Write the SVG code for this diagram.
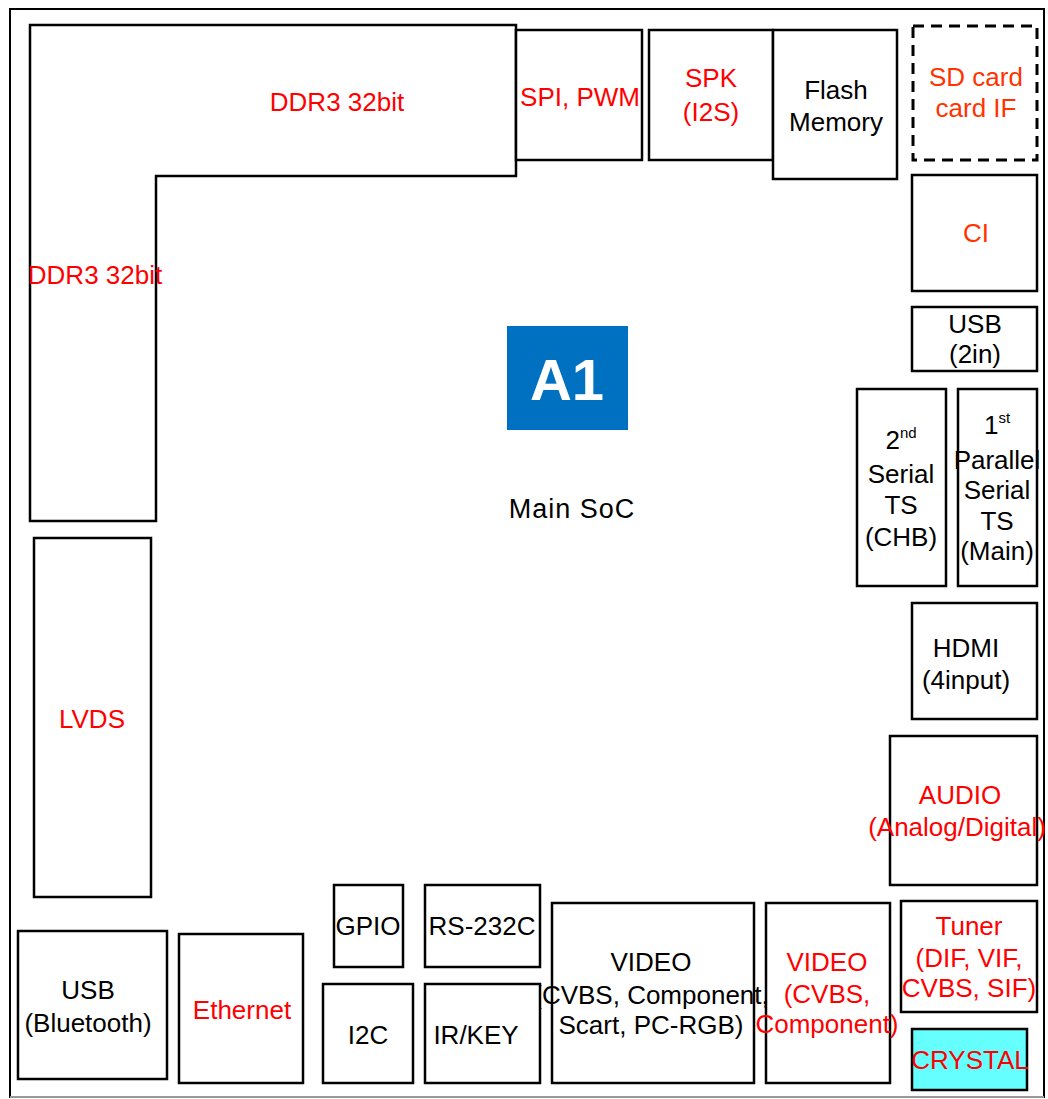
<svg xmlns="http://www.w3.org/2000/svg" width="1048" height="1099" viewBox="0 0 1048 1099">
<style>
.box{fill:#fff;stroke:#000;stroke-width:2.5}
.t{font-family:"Liberation Sans",Arial,sans-serif;font-size:26px;text-anchor:middle;fill:#000}
.r{fill:#ff0000}
.o{fill:#ff3300}
.sup{font-size:15px}
</style>
<rect x="0" y="0" width="1048" height="1099" fill="#fff"/>
<g id="frame">
<rect x="10" y="9" width="1034" height="1088" fill="#fff" stroke="#000" stroke-width="2"/>
<line x1="10" y1="1097" x2="1044" y2="1097" stroke="#999" stroke-width="2"/>
</g>
<g id="connectors"/>
<g id="ddr3">
<path class="box" d="M30 25 H516 V176 H156 V521 H30 Z"/>
<text class="t r" x="337" y="111">DDR3 32bit</text>
<text class="t r" x="95" y="284">DDR3 32bit</text>
</g>
<g id="spi"><rect class="box" x="516" y="30" width="126" height="130"/><text class="t r" x="580" y="106">SPI, PWM</text></g>
<g id="spk"><rect class="box" x="649" y="30" width="124" height="130"/><text class="t r" x="711" y="87">SPK</text><text class="t r" x="711" y="121">(I2S)</text></g>
<g id="flash"><rect class="box" x="773" y="30" width="124" height="149"/><text class="t" x="836" y="99">Flash</text><text class="t" x="836" y="131">Memory</text></g>
<g id="sdcard"><rect x="913" y="26" width="124" height="134" fill="#fff" stroke="#000" stroke-width="3" stroke-dasharray="11,7"/><text class="t o" x="976" y="86">SD card</text><text class="t o" x="976" y="117">card IF</text></g>
<g id="ci"><rect class="box" x="912" y="175" width="125" height="116"/><text class="t o" x="976" y="242">CI</text></g>
<g id="usb2in"><rect class="box" x="912" y="307" width="125" height="64"/><text class="t" x="975" y="333">USB</text><text class="t" x="975" y="363">(2in)</text></g>
<g id="ts2"><rect class="box" x="857" y="389" width="89" height="197"/>
<text class="t" x="901" y="449">2<tspan class="sup" dy="-11">nd</tspan></text>
<text class="t" x="901" y="483">Serial</text><text class="t" x="901" y="514">TS</text><text class="t" x="901" y="546">(CHB)</text></g>
<g id="ts1"><rect class="box" x="958" y="389" width="79" height="197"/>
<text class="t" x="997" y="434">1<tspan class="sup" dy="-11">st</tspan></text>
<text class="t" x="997" y="469">Parallel</text><text class="t" x="997" y="499">Serial</text><text class="t" x="997" y="530">TS</text><text class="t" x="997" y="560">(Main)</text></g>
<g id="hdmi"><rect class="box" x="912" y="603" width="125" height="116"/><text class="t" x="966" y="657">HDMI</text><text class="t" x="966" y="689">(4input)</text></g>
<g id="audio"><rect class="box" x="890" y="736" width="147" height="149"/><text class="t r" x="960" y="804">AUDIO</text><text class="t r" x="957" y="836">(Analog/Digital)</text></g>
<g id="tuner"><rect class="box" x="901" y="901" width="136" height="111"/><text class="t r" x="969" y="935">Tuner</text><text class="t r" x="969" y="967">(DIF, VIF,</text><text class="t r" x="969" y="997">CVBS, SIF)</text></g>
<g id="crystal"><rect x="912" y="1029" width="115" height="61" fill="#66ffff" stroke="#000" stroke-width="2.5"/><text class="t r" x="970" y="1069">CRYSTAL</text></g>
<g id="video2"><rect class="box" x="766" y="903" width="124" height="180"/><text class="t r" x="827" y="971">VIDEO</text><text class="t r" x="827" y="1003">(CVBS,</text><text class="t r" x="827" y="1033">Component)</text></g>
<g id="video1"><rect class="box" x="552" y="903" width="202" height="180"/><text class="t" x="651" y="971">VIDEO</text><text class="t" x="651" y="1004">(CVBS, Component,</text><text class="t" x="651" y="1034">Scart, PC-RGB)</text></g>
<g id="gpio"><rect class="box" x="334" y="885" width="69" height="82"/><text class="t" x="368" y="935">GPIO</text></g>
<g id="rs232c"><rect class="box" x="425" y="885" width="115" height="82"/><text class="t" x="482" y="935">RS-232C</text></g>
<g id="i2c"><rect class="box" x="323" y="984" width="90" height="99"/><text class="t" x="368" y="1044">I2C</text></g>
<g id="irkey"><rect class="box" x="425" y="984" width="115" height="99"/><text class="t" x="476" y="1044">IR/KEY</text></g>
<g id="ethernet"><rect class="box" x="179" y="934" width="124" height="149"/><text class="t r" x="242" y="1019">Ethernet</text></g>
<g id="usbbt"><rect class="box" x="18" y="931" width="149" height="148"/><text class="t" x="88" y="999">USB</text><text class="t" x="88" y="1032">(Bluetooth)</text></g>
<g id="lvds"><rect class="box" x="34" y="538" width="117" height="359"/><text class="t r" x="92" y="728">LVDS</text></g>
<g id="soc">
<rect x="507" y="326" width="121" height="104" fill="#0070c0"/>
<text x="567" y="400" font-family="'Liberation Sans',Arial,sans-serif" font-size="58" font-weight="bold" fill="#fff" text-anchor="middle">A1</text>
<text x="572" y="518" font-family="'Liberation Sans',Arial,sans-serif" font-size="27" letter-spacing="1" text-anchor="middle" fill="#000">Main SoC</text>
</g>
</svg>
